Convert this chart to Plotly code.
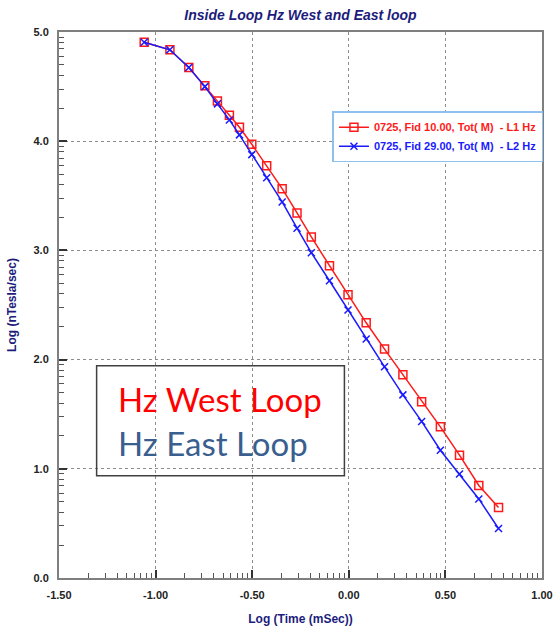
import numpy as np
import plotly.graph_objects as go

# Data
log_time = [-1.059, -0.926, -0.828, -0.745, -0.680, -0.618, -0.566, -0.502, -0.425,
            -0.345, -0.268, -0.194, -0.100, -0.004, 0.090, 0.185, 0.280, 0.377,
            0.474, 0.573, 0.673, 0.775]
west_hz = [4.907, 4.837, 4.675, 4.507, 4.367, 4.238, 4.128, 3.972, 3.776, 3.565,
           3.343, 3.123, 2.860, 2.594, 2.337, 2.096, 1.861, 1.613, 1.384, 1.125,
           0.847, 0.645]
east_hz = [4.907, 4.837, 4.675, 4.500, 4.342, 4.195, 4.058, 3.877, 3.666, 3.444,
           3.203, 2.979, 2.722, 2.454, 2.188, 1.934, 1.677, 1.434, 1.170, 0.953,
           0.724, 0.453]

west_name = "0725, Fid 10.00, Tot( M)  - L1 Hz"
east_name = "0725, Fid 29.00, Tot( M)  - L2 Hz"
x_ticks = [-1.5, -1.0, -0.5, 0.0, 0.5, 1.0]
y_ticks = [0.0, 1.0, 2.0, 3.0, 4.0, 5.0]

# log-cycle minor ticks
x_minor = [s + 0.5 * np.log10(k) for s in x_ticks[:-1] for k in range(2, 10)]
y_minor = [s + np.log10(k) for s in y_ticks[:-1] for k in range(2, 10)]

RED = "#ff1a1a"
BLUE = "#1a1aff"
NAVY = "#1c1c7c"

fig = go.Figure()
fig.add_trace(go.Scatter(
    x=log_time, y=west_hz, mode="lines+markers",
    name=f'<span style="color:{RED}">{west_name}</span>',
    line=dict(color=RED, width=1.5),
    marker=dict(symbol="square-open", size=8, color=RED, line=dict(width=1.5)),
))
fig.add_trace(go.Scatter(
    x=log_time, y=east_hz, mode="lines+markers",
    name=f'<span style="color:{BLUE}">{east_name}</span>',
    line=dict(color=BLUE, width=1.5),
    marker=dict(symbol="x-thin-open", size=7, color=BLUE, line=dict(width=1.5, color=BLUE)),
))

axis_common = dict(
    showline=True, linecolor="#7f7f7f", linewidth=2, mirror=True,
    ticks="inside", ticklen=8, tickwidth=2, tickcolor="#333333",
    showgrid=True, gridcolor="#8c8c8c", griddash="dot", gridwidth=1,
    zeroline=False, automargin=False, ticklabeloverflow="allow",
    tickfont=dict(family="Liberation Sans", size=11, color="#222222", weight="bold"),
    ticklabelstandoff=6,
)

fig.update_layout(
    width=553, height=628,
    margin=dict(l=59, r=10, t=32, b=50),
    paper_bgcolor="white", plot_bgcolor="white",
    title=dict(
        text="<b><i>Inside Loop Hz West and East loop</i></b>",
        x=0.5, xref="paper", xanchor="center", y=0.976, yanchor="middle",
        font=dict(family="Liberation Sans", size=14, color=NAVY),
    ),
    xaxis=dict(
        range=[-1.5, 1.0], tickvals=x_ticks, ticktext=[f"{v:.2f}" for v in x_ticks],
        title=dict(text="<b>Log (Time (mSec))</b>", standoff=14,
                   font=dict(family="Liberation Sans", size=12, color=NAVY)),
        minor=dict(tickvals=x_minor, ticks="inside", ticklen=5, tickwidth=1,
                   tickcolor="#555555", showgrid=False),
        **axis_common,
    ),
    yaxis=dict(
        range=[0.0, 5.0], tickvals=y_ticks, ticktext=[f"{v:.1f}" for v in y_ticks],
        title=dict(text="<b>Log (nTesla/sec)</b>", standoff=14,
                   font=dict(family="Liberation Sans", size=12, color=NAVY)),
        minor=dict(tickvals=y_minor, ticks="inside", ticklen=5, tickwidth=1,
                   tickcolor="#555555", showgrid=False),
        **axis_common,
    ),
    legend=dict(
        x=0.565, y=0.855, xanchor="left", yanchor="top",
        bgcolor="white", bordercolor="#8fc0f0", borderwidth=1.5,
        font=dict(family="Liberation Sans", size=11, weight="bold"),
        itemwidth=30, tracegroupgap=0,
    ),
    showlegend=True,
)

# Annotation box with labels
fig.add_shape(type="rect", xref="paper", yref="paper",
              x0=(96.7 - 59) / 484, x1=(345 - 59) / 484,
              y0=(578 - 475.7) / 546, y1=(578 - 365.7) / 546,
              line=dict(color="#404040", width=1.5), fillcolor="rgba(0,0,0,0)")
fig.add_annotation(xref="paper", yref="paper", x=(116 - 59) / 484, y=(578 - 399) / 546,
                   xanchor="left", yanchor="middle", showarrow=False,
                   text="Hz West Loop",
                   font=dict(family="Lato", size=33, color="#ff0000"))
fig.add_annotation(xref="paper", yref="paper", x=(116 - 59) / 484, y=(578 - 443) / 546,
                   xanchor="left", yanchor="middle", showarrow=False,
                   text="Hz East Loop",
                   font=dict(family="Lato", size=33, color="#3a5f8f"))

fig.write_html("out.html")
